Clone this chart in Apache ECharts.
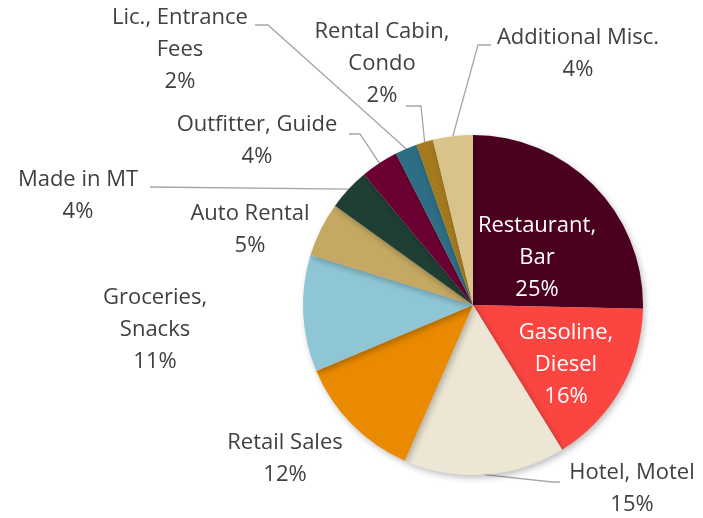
<!DOCTYPE html>
<html>
<head>
<meta charset="utf-8">
<script src="https://cdn.jsdelivr.net/npm/echarts@6/dist/echarts.min.js"></script>
<style>
    html, body { margin: 0; padding: 0; background: #fff; }
    #main { width: 703px; height: 518px; }
</style>
</head>
<body>
<div id="main"></div>
<script>
    // categories clockwise from 12 o'clock
    var categories = ['Restaurant,\nBar', 'Gasoline,\nDiesel', 'Hotel, Motel', 'Retail Sales', 'Groceries,\nSnacks',
        'Auto Rental', 'Made in MT', 'Outfitter, Guide', 'Lic., Entrance\nFees', 'Rental Cabin,\nCondo', 'Additional Misc.'];
    var shares = [25.4, 15.9, 15.4, 12.1, 11.1, 5.2, 4.0, 3.6, 2.1, 1.6, 3.8];
    var colors = ['#4b0020', '#fa4540', '#ede6d5', '#ea8a00', '#8fc6d6',
        '#c5a862', '#1f3f35', '#6b0032', '#2d6e84', '#a57a1e', '#d8c38b'];

    // label centres and leader-line elbows (null = no leader line)
    var labelPos = [[537, 258], [566, 365], [632, 489], [285, 459], [155, 330],
        [250, 230], [78, 196], [257, 141], [180, 50], [382, 64], [578, 54]];
    var elbows = [null, null, [[552, 482], [560, 482]], null, null,
        null, [[150, 187], [150, 187]], [[360, 134], [349, 134]], [[268, 25], [255, 25]],
        [[421, 106], [406, 106]], [[478, 45], [491, 45]]];

    var myChart = echarts.init(document.getElementById('main'));

    var data = [];
    for (var i = 0; i < categories.length; i++) {
        var item = {
            name: categories[i],
            value: shares[i],
            itemStyle: { color: colors[i] }
        };
        if (i < 2) {
            item.label = { position: 'inside', color: '#ffffff' };
        }
        if (!elbows[i]) {
            item.labelLine = { show: false };
        }
        data.push(item);
    }

    var option = {
        animation: false,
        series: [{
            type: 'pie',
            center: [473, 305],
            radius: 170,
            startAngle: 90,
            clockwise: true,
            data: data,
            itemStyle: {
                shadowBlur: 6,
                shadowOffsetX: 2,
                shadowOffsetY: 3,
                shadowColor: 'rgba(0,0,0,0.25)'
            },
            label: {
                show: true,
                fontFamily: 'Open Sans',
                fontSize: 22,
                lineHeight: 32,
                color: '#404040',
                align: 'center',
                formatter: function (p) {
                    return p.name + '\n' + Math.round(p.percent) + '%';
                }
            },
            labelLine: {
                show: true,
                lineStyle: { color: '#a6a6a6', width: 1.3 }
            },
            labelLayout: function (params) {
                var i = params.dataIndex;
                var res = {
                    x: labelPos[i][0],
                    y: labelPos[i][1],
                    align: 'center',
                    verticalAlign: 'middle'
                };
                if (elbows[i] && params.labelLinePoints) {
                    res.labelLinePoints = [params.labelLinePoints[0], elbows[i][0], elbows[i][1]];
                }
                return res;
            }
        }]
    };

    myChart.setOption(option);
</script>
</body>
</html>
